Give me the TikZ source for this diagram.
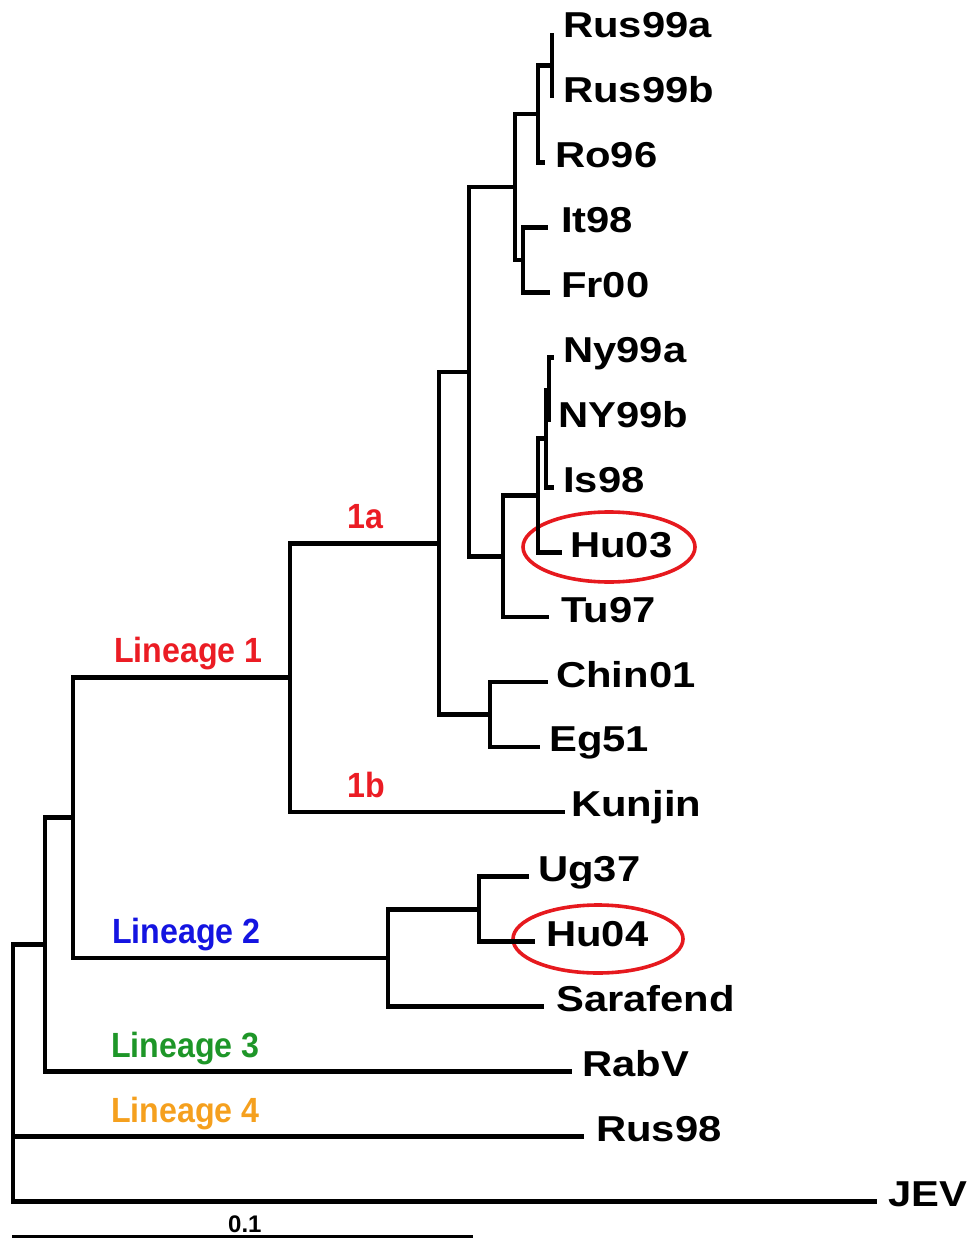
\documentclass[tikz,border=0pt]{standalone}
\usepackage{fontspec}
\setmainfont{Liberation Sans}
\newfontfamily\leaffont{Liberation Sans}[FakeStretch=1.16]
\newfontfamily\linfont{Liberation Sans}[FakeStretch=0.92]
\definecolor{linred}{RGB}{235,28,36}
\definecolor{linblue}{RGB}{20,20,225}
\definecolor{lingreen}{RGB}{30,150,40}
\definecolor{linorange}{RGB}{245,160,30}
\definecolor{hlred}{RGB}{230,25,30}
\begin{document}
\begin{tikzpicture}[x=1pt,y=-1pt,
  br/.style={line width=4.6pt,black},
  leaf/.style={anchor=base west,inner sep=0pt,font=\leaffont\bfseries\fontsize{36}{40}\selectfont},
  lin/.style={anchor=base west,inner sep=0pt,font=\linfont\bfseries\fontsize{35}{40}\selectfont},
  hl/.style={draw=hlred,line width=3.6pt}]
\useasboundingbox (0,0) rectangle (970,1238);
% leaf ends
\coordinate (l0) at (552,33);
\coordinate (l1) at (552,97.9);
\coordinate (l2) at (545,162.8);
\coordinate (l3) at (548,227.7);
\coordinate (l4) at (550,292.6);
\coordinate (l5) at (554,357.5);
\coordinate (l6) at (549,422.4);
\coordinate (l7) at (554,487.3);
\coordinate (l8) at (562,552.2);
\coordinate (l9) at (549,617.1);
\coordinate (l10) at (548,682);
\coordinate (l11) at (540,746.9);
\coordinate (l12) at (565,811.8);
\coordinate (l13) at (529,876.7);
\coordinate (l14) at (535,941.6);
\coordinate (l15) at (544,1006.5);
\coordinate (l16) at (572,1071.4);
\coordinate (l17) at (584,1136.3);
\coordinate (l18) at (877,1201.2);
% internal nodes
\coordinate (A) at (552,65.5);
\coordinate (B) at (538,114.2);
\coordinate (C) at (523,260.2);
\coordinate (D) at (515,187.2);
\coordinate (G) at (549,390);
\coordinate (E) at (546,438.6);
\coordinate (F) at (538,495.4);
\coordinate (H) at (503,556.3);
\coordinate (I) at (469,371.8);
\coordinate (J) at (490,714.5);
\coordinate (K) at (439,543.2);
\coordinate (L1) at (290,677.5);
\coordinate (M) at (479,909.2);
\coordinate (N) at (388,957.9);
\coordinate (O) at (73,817.7);
\coordinate (P) at (45,944.5);
\coordinate (R) at (13,1073);
% highlight ellipses
\draw[hl] (609,547) ellipse [x radius=86pt,y radius=35pt];
\draw[hl] (598,939) ellipse [x radius=85pt,y radius=34pt];
% branches
\draw[br] (A) |- (l0);
\draw[br] (A) |- (l1);
\draw[br] (B) |- (A);
\draw[br] (B) |- (l2);
\draw[br] (C) |- (l3);
\draw[br] (C) |- (l4);
\draw[br] (D) |- (B);
\draw[br] (D) |- (C);
\draw[br] (G) |- (l5);
\draw[br] (G) |- (l6);
\draw[br] (E) |- (G);
\draw[br] (E) |- (l7);
\draw[br] (F) |- (E);
\draw[br] (F) |- (l8);
\draw[br] (H) |- (F);
\draw[br] (H) |- (l9);
\draw[br] (I) |- (D);
\draw[br] (I) |- (H);
\draw[br] (J) |- (l10);
\draw[br] (J) |- (l11);
\draw[br] (K) |- (I);
\draw[br] (K) |- (J);
\draw[br] (L1) |- (K);
\draw[br] (L1) |- (l12);
\draw[br] (M) |- (l13);
\draw[br] (M) |- (l14);
\draw[br] (N) |- (M);
\draw[br] (N) |- (l15);
\draw[br] (O) |- (L1);
\draw[br] (O) |- (N);
\draw[br] (P) |- (O);
\draw[br] (P) |- (l16);
\draw[br] (R) |- (P);
\draw[br] (R) |- (l17);
\draw[br] (R) |- (l18);
% leaf labels
\node[leaf] (t0) at (563,38) {Rus99a};
\node[leaf] (t1) at (563,102.9) {Rus99b};
\node[leaf] (t2) at (555,167.8) {Ro96};
\node[leaf] (t3) at (561,232.7) {It98};
\node[leaf] (t4) at (561,297.6) {Fr00};
\node[leaf] (t5) at (563,362.5) {Ny99a};
\node[leaf] (t6) at (558,427.4) {NY99b};
\node[leaf] (t7) at (563,492.3) {Is98};
\node[leaf] (t8) at (570,557.2) {Hu03};
\node[leaf] (t9) at (561,622.1) {Tu97};
\node[leaf] (t10) at (556,687) {Chin01};
\node[leaf] (t11) at (549,751.9) {Eg51};
\node[leaf] (t12) at (571,816.8) {Kunjin};
\node[leaf] (t13) at (538,881.7) {Ug37};
\node[leaf] (t14) at (546,946.6) {Hu04};
\node[leaf] (t15) at (556,1011.5) {Sarafend};
\node[leaf] (t16) at (582,1076.4) {RabV};
\node[leaf] (t17) at (596,1141.3) {Rus98};
\node[leaf] (t18) at (888,1206.2) {JEV};
% lineage labels
\node[lin,text=linred] (lin1) at (114,662) {Lineage 1};
\node[lin,text=linred] (s1a) at (347,528) {1a};
\node[lin,text=linred] (s1b) at (347,797) {1b};
\node[lin,text=linblue] (lin2) at (112,943) {Lineage 2};
\node[lin,text=lingreen] (lin3) at (111,1057) {Lineage 3};
\node[lin,text=linorange] (lin4) at (111,1122) {Lineage 4};
% scale bar
\coordinate (sb1) at (12,1237);
\coordinate (sb2) at (473,1237);
\draw[br] (sb1) -- (sb2);
\node[anchor=base west,inner sep=0pt,font=\bfseries\fontsize{24}{26}\selectfont] (sbl) at (228,1232) {0.1};
\end{tikzpicture}
\end{document}
